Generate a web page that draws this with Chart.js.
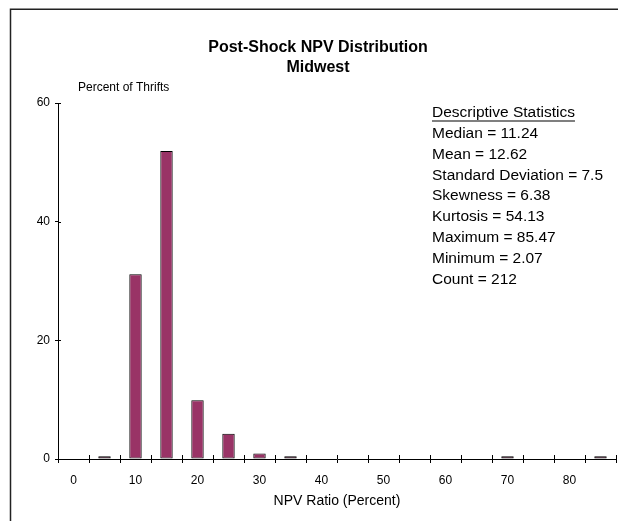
<!DOCTYPE html>
<html>
<head>
<meta charset="utf-8">
<script src="https://cdn.jsdelivr.net/npm/chart.js@4"></script>
<style>
  html, body { margin: 0; padding: 0; background: #fff; }
  canvas { display: block; }
</style>
</head>
<body>
<canvas id="chart" width="618" height="521"></canvas>
<script>
// NPV ratio bins (percent) and share of thrifts in each bin
const categories = ["0", "5", "10", "15", "20", "25", "30", "35", "40", "45",
                    "50", "55", "60", "65", "70", "75", "80", "85"];
const percentOfThrifts = [0, 0.47, 31.13, 51.89, 9.91, 4.25, 0.94, 0.47, 0, 0,
                          0, 0, 0, 0, 0.47, 0, 0, 0.47];
const yTicks = [0, 20, 40, 60];

const statsTitle = "Descriptive Statistics";
const statsLines = [
  "Median = 11.24",
  "Mean = 12.62",
  "Standard Deviation = 7.5",
  "Skewness = 6.38",
  "Kurtosis = 54.13",
  "Maximum = 85.47",
  "Minimum = 2.07",
  "Count = 212",
];

const FONT = "Arial, 'Liberation Sans', sans-serif";
Chart.defaults.color = "#000";
Chart.defaults.font.family = FONT;

// frame, y-axis caption and the statistics box
const extras = {
  id: "extras",
  beforeDraw(chart) {
    const ctx = chart.ctx;
    ctx.save();
    ctx.fillStyle = "#fff";
    ctx.fillRect(0, 0, chart.width, chart.height);
    ctx.strokeStyle = "#222";
    ctx.lineWidth = 1.5;
    ctx.beginPath();
    ctx.moveTo(10.5, chart.height);
    ctx.lineTo(10.5, 9.25);
    ctx.lineTo(chart.width, 9.25);
    ctx.stroke();
    ctx.restore();
  },
  afterDraw(chart) {
    const { ctx, scales: { x, y } } = chart;
    ctx.save();
    // inner halves of the tick marks
    ctx.strokeStyle = "#000";
    ctx.lineWidth = 1;
    ctx.beginPath();
    const step = x.width / categories.length;
    for (let i = 0; i < categories.length; i++) {
      const px = Math.round(x.getPixelForValue(i) + step / 2) + 0.5;
      ctx.moveTo(px, x.top - 4);
      ctx.lineTo(px, x.top);
    }
    yTicks.forEach((v) => {
      if (v === 0) return;
      const py = Math.round(y.getPixelForValue(v)) + 0.5;
      ctx.moveTo(y.right, py);
      ctx.lineTo(y.right + 3, py);
    });
    ctx.stroke();

    ctx.fillStyle = "#000";
    ctx.textBaseline = "middle";
    ctx.textAlign = "left";
    ctx.font = "12px " + FONT;
    ctx.fillText("Percent of Thrifts", 78, 88);

    ctx.font = "15.5px " + FONT;
    const sx = 432;
    let sy = 113;
    ctx.fillText(statsTitle, sx, sy);
    const w = ctx.measureText(statsTitle).width;
    ctx.fillRect(sx, sy + 7.5, w, 1);
    statsLines.forEach((line) => {
      sy += 20.8;
      ctx.fillText(line, sx, sy);
    });
    ctx.restore();
  },
};

new Chart(document.getElementById("chart"), {
  type: "bar",
  data: {
    labels: categories,
    datasets: [
      {
        label: "Percent of Thrifts",
        data: percentOfThrifts,
        backgroundColor: "#993366",
        borderColor: "#000",
        borderWidth: 1,
        borderSkipped: false,
        barPercentage: 0.4,
        categoryPercentage: 1,
      },
    ],
  },
  options: {
    responsive: false,
    animation: false,
    layout: { padding: { left: 20, right: 2, top: 0, bottom: 0 } },
    plugins: {
      legend: { display: false },
      tooltip: { enabled: false },
      title: {
        display: true,
        text: ["Post-Shock NPV Distribution", "Midwest"],
        font: { size: 16, weight: "bold", lineHeight: 1.25 },
        padding: { top: 38, bottom: 25 },
        color: "#000",
      },
    },
    scales: {
      x: {
        afterFit(scale) { scale.height = 62; },
        grid: {
          display: true,
          offset: true,
          drawOnChartArea: false,
          drawTicks: true,
          tickLength: 4,
          color: "#000",
        },
        border: { display: true, color: "#000", width: 1 },
        ticks: {
          autoSkip: false,
          maxRotation: 0,
          padding: 10,
          font: { size: 12 },
          callback: function (value, index) {
            return index % 2 === 0 ? categories[index] : "";
          },
        },
        title: {
          display: true,
          text: "NPV Ratio (Percent)",
          font: { size: 14 },
          padding: { top: 11, bottom: 11 },
        },
      },
      y: {
        min: 0,
        max: 60,
        afterFit(scale) { scale.width = 38; },
        afterBuildTicks(scale) {
          scale.ticks = yTicks.map((v) => ({ value: v }));
        },
        grid: {
          display: true,
          drawOnChartArea: false,
          drawTicks: true,
          tickLength: 3,
          color: "#000",
        },
        border: { display: true, color: "#000", width: 1 },
        ticks: { padding: 5, font: { size: 12 } },
      },
    },
  },
  plugins: [extras],
});
</script>
</body>
</html>
